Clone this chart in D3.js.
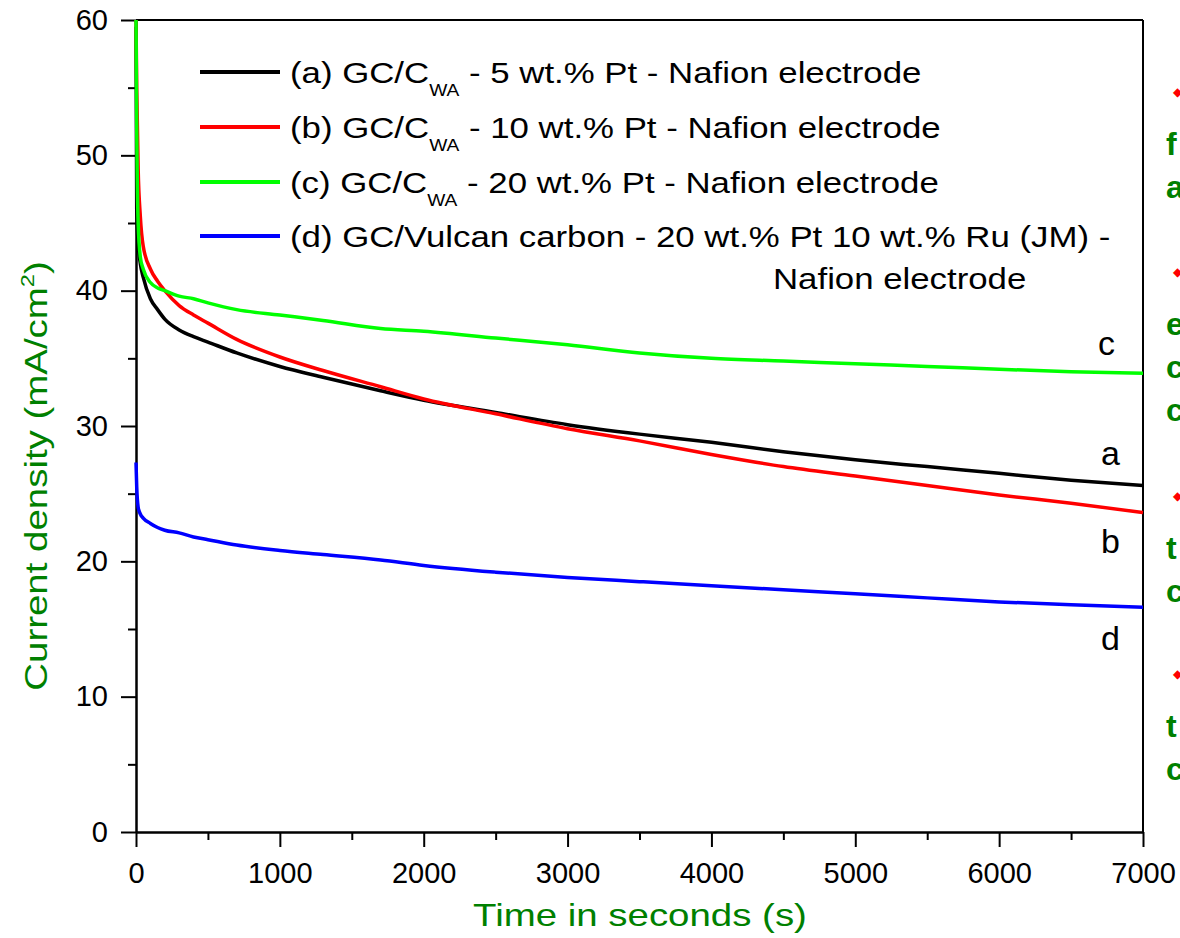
<!DOCTYPE html>
<html>
<head>
<meta charset="utf-8">
<script src="https://cdnjs.cloudflare.com/ajax/libs/d3/7.8.5/d3.min.js"></script>
<style>
body { margin: 0; background: #fff; }
svg text { font-family: "Liberation Sans", Arial, sans-serif; white-space: pre; }
</style>
</head>
<body>
<svg id="chart" width="1180" height="938"></svg>
<script>
// time axis, seconds
var times = [0, 5, 15, 30, 50, 100, 150, 200, 300, 400, 500, 700, 1000, 1300, 1700,
             2000, 2500, 3000, 3500, 4000, 4500, 5000, 5500, 6000, 6500, 7000];
// current density (mA/cm2) for each electrode
var curveA = [59.5, 46.0, 43.5, 42.0, 41.0, 39.4, 38.6, 37.9, 37.1, 36.6, 36.2, 35.4, 34.4, 33.6, 32.6,
              31.9, 31.0, 30.1, 29.4, 28.8, 28.1, 27.5, 27.0, 26.5, 26.0, 25.6];
var curveB = [60.0, 55.0, 49.0, 45.5, 43.3, 41.6, 40.7, 40.0, 38.9, 38.2, 37.6, 36.4, 35.1, 34.1, 32.9,
              32.0, 30.9, 29.8, 28.9, 27.9, 27.0, 26.3, 25.6, 24.9, 24.3, 23.6];
var curveC = [60.0, 52.0, 45.0, 42.5, 41.6, 40.6, 40.2, 40.0, 39.6, 39.4, 39.1, 38.6, 38.2, 37.8, 37.2,
              37.0, 36.5, 36.0, 35.4, 35.0, 34.8, 34.6, 34.4, 34.2, 34.0, 33.9];
var curveD = [27.3, 25.5, 24.0, 23.5, 23.2, 22.8, 22.5, 22.3, 22.1, 21.8, 21.6, 21.2, 20.8, 20.5, 20.1,
              19.7, 19.2, 18.8, 18.5, 18.2, 17.9, 17.6, 17.3, 17.0, 16.8, 16.6];

var seriesColors = ["#000000", "#ff0000", "#00ff00", "#0000ff"];
var curveLetters = ["a", "b", "c", "d"];

var xTicks = [0, 1000, 2000, 3000, 4000, 5000, 6000, 7000];
var xMinorTicks = [500, 1500, 2500, 3500, 4500, 5500, 6500];
var yTicks = [0, 10, 20, 30, 40, 50, 60];
var yMinorTicks = [5, 15, 25, 35, 45, 55];

var legendPre = ["(a) GC/C", "(b) GC/C", "(c) GC/C", "(d) GC/Vulcan carbon - 20 wt.% Pt 10 wt.% Ru (JM) -"];
var legendSub = ["WA", "WA", "WA", ""];
var legendPost = [" - 5 wt.% Pt - Nafion electrode", " - 10 wt.% Pt - Nafion electrode",
                  " - 20 wt.% Pt - Nafion electrode", ""];

// cut off slide text on the right edge
var sideLetters = [["f", "a"], ["e", "c", "c"], ["t", "c"], ["t", "c"]];

var svg = d3.select("#chart");

var plotLeft = 136, plotRight = 1143, plotTop = 20, plotBottom = 832;

var xScale = d3.scaleLinear().domain([0, 7000]).range([plotLeft, plotRight]);
var yScale = d3.scaleLinear().domain([0, 60]).range([plotBottom, plotTop]);

// frame: top and right lines
svg.append("line")
	.attr("x1", plotLeft).attr("x2", plotRight)
	.attr("y1", yScale(60)).attr("y2", yScale(60))
	.attr("stroke", "#000").attr("stroke-width", 2);
svg.append("line")
	.attr("x1", xScale(7000)).attr("x2", xScale(7000))
	.attr("y1", plotTop).attr("y2", plotBottom)
	.attr("stroke", "#000").attr("stroke-width", 2);

// axes
svg.append("g")
	.attr("transform", "translate(0," + plotBottom + ")")
	.call(d3.axisBottom(xScale).tickValues(xMinorTicks).tickSize(8).tickSizeOuter(0).tickFormat(""));
svg.append("g")
	.attr("transform", "translate(0," + plotBottom + ")")
	.call(d3.axisBottom(xScale).tickValues(xTicks).tickSize(15).tickSizeOuter(0).tickPadding(15)
		.tickFormat(d3.format("d")));

svg.append("g")
	.attr("transform", "translate(" + plotLeft + ",0)")
	.call(d3.axisLeft(yScale).tickValues(yMinorTicks).tickSize(8).tickSizeOuter(0).tickFormat(""));
svg.append("g")
	.attr("transform", "translate(" + plotLeft + ",0)")
	.call(d3.axisLeft(yScale).tickValues(yTicks).tickSize(15).tickSizeOuter(0).tickPadding(13)
		.tickFormat(d3.format("d")));

svg.selectAll(".domain, .tick line").attr("stroke-width", 2);
svg.selectAll(".tick text")
	.attr("font-size", 29)
	.attr("font-family", "Liberation Sans, Arial, sans-serif")
	.attr("fill", "#000");

// axis titles
svg.append("text")
	.attr("transform", "translate(640,926) scale(1.24,1)")
	.attr("text-anchor", "middle")
	.attr("font-size", 31)
	.attr("fill", "#008000")
	.text("Time in seconds (s)");

var yTitle = svg.append("text")
	.attr("transform", "translate(47,476) rotate(-90) scale(1.24,1)")
	.attr("text-anchor", "middle")
	.attr("font-size", 31)
	.attr("fill", "#008000");
yTitle.append("tspan").text("Current density (mA/cm");
yTitle.append("tspan").attr("font-size", 19).attr("dy", -13).text("2");
yTitle.append("tspan").attr("dy", 13).text(")");

// curves
var allCurves = [curveA, curveB, curveC, curveD];
var line = d3.line()
	.curve(d3.curveMonotoneX)
	.x(function(d, i) { return xScale(times[i]); })
	.y(function(d) { return yScale(d); });

for (var s = 0; s < allCurves.length; s++) {
	svg.append("path")
		.datum(allCurves[s])
		.attr("d", line)
		.attr("fill", "none")
		.attr("stroke", seriesColors[s])
		.attr("stroke-width", 3.5)
		.attr("stroke-linejoin", "round");
}

// curve letters near the right end
var letterPos = [[1101, 465], [1101, 553], [1098, 355], [1101, 650]];
for (var s = 0; s < curveLetters.length; s++) {
	svg.append("text")
		.attr("x", letterPos[s][0])
		.attr("y", letterPos[s][1])
		.attr("font-size", 34)
		.attr("fill", "#000")
		.text(curveLetters[s]);
}

// legend
var legendY = [72, 127, 182, 236];
for (var i = 0; i < legendPre.length; i++) {
	svg.append("line")
		.attr("x1", 200).attr("x2", 280)
		.attr("y1", legendY[i]).attr("y2", legendY[i])
		.attr("stroke", seriesColors[i])
		.attr("stroke-width", 4);

	var t = svg.append("text")
		.attr("transform", "translate(290," + (legendY[i] + 11) + ") scale(1.2,1)")
		.attr("font-size", 29)
		.attr("fill", "#000");
	t.append("tspan").text(legendPre[i]);
	if (legendSub[i] != "") {
		t.append("tspan").attr("font-size", 16).attr("dy", 13).text(legendSub[i]);
		t.append("tspan").attr("dy", -13).text(legendPost[i]);
	}
}
svg.append("text")
	.attr("transform", "translate(773,289) scale(1.2,1)")
	.attr("font-size", 29)
	.attr("fill", "#000")
	.text("Nafion electrode");

// slide bullets cut off on the right
var bulletY = [92, 272, 496, 674];
for (var b = 0; b < sideLetters.length; b++) {
	svg.append("text")
		.attr("x", 1177).attr("y", bulletY[b] + 4)
		.attr("text-anchor", "middle")
		.attr("font-size", 12)
		.attr("font-family", "DejaVu Sans")
		.attr("fill", "#ff0000")
		.text("\u25C6");
	for (var k = 0; k < sideLetters[b].length; k++) {
		svg.append("text")
			.attr("x", 1166)
			.attr("y", bulletY[b] + 63 + k * 43)
			.attr("font-size", 32)
			.attr("font-weight", "bold")
			.attr("fill", "#008000")
			.text(sideLetters[b][k]);
	}
}
</script>
</body>
</html>
